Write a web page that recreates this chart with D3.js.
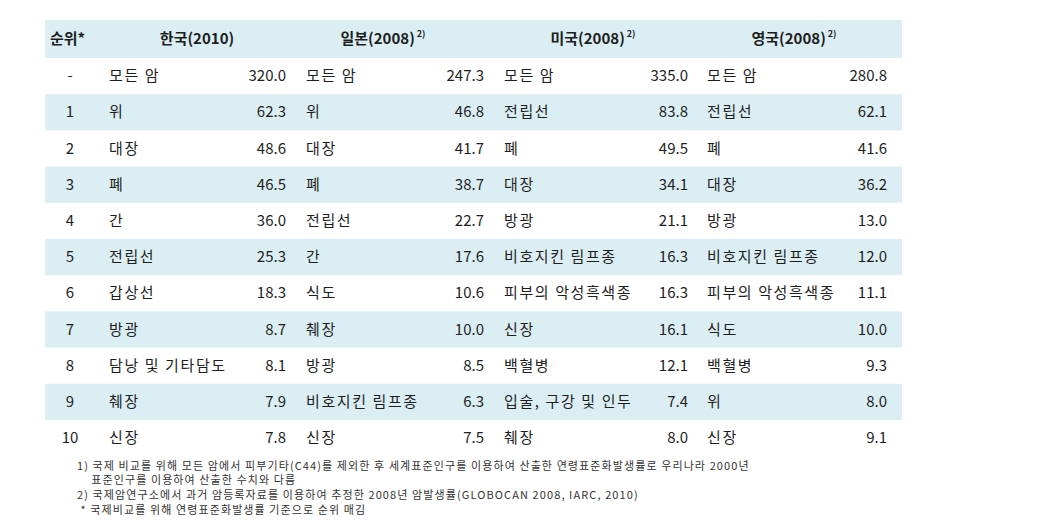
<!DOCTYPE html>
<html>
<head>
<meta charset="utf-8">
<script src="https://cdn.jsdelivr.net/npm/d3@7"></script>
<style>
  body { margin: 0; background: #fff; }
  svg text { font-family: "Malgun Gothic", "Noto Sans CJK KR", sans-serif; }
</style>
</head>
<body>
<script>
'use strict';

// table contents
const ranks = ["-", "1", "2", "3", "4", "5", "6", "7", "8", "9", "10"];
const countries = ["한국(2010)", "일본(2008)", "미국(2008)", "영국(2008)"];
const countryNotes = ["", "2)", "2)", "2)"];

const koreaSites = ["모든 암", "위", "대장", "폐", "간", "전립선", "갑상선", "방광", "담낭 및 기타담도", "췌장", "신장"];
const koreaRates = [320.0, 62.3, 48.6, 46.5, 36.0, 25.3, 18.3, 8.7, 8.1, 7.9, 7.8];

const japanSites = ["모든 암", "위", "대장", "폐", "전립선", "간", "식도", "췌장", "방광", "비호지킨 림프종", "신장"];
const japanRates = [247.3, 46.8, 41.7, 38.7, 22.7, 17.6, 10.6, 10.0, 8.5, 6.3, 7.5];

const usaSites = ["모든 암", "전립선", "폐", "대장", "방광", "비호지킨 림프종", "피부의 악성흑색종", "신장", "백혈병", "입술, 구강 및 인두", "췌장"];
const usaRates = [335.0, 83.8, 49.5, 34.1, 21.1, 16.3, 16.3, 16.1, 12.1, 7.4, 8.0];

const ukSites = ["모든 암", "전립선", "폐", "대장", "방광", "비호지킨 림프종", "피부의 악성흑색종", "식도", "백혈병", "위", "신장"];
const ukRates = [280.8, 62.1, 41.6, 36.2, 13.0, 12.0, 11.1, 10.0, 9.3, 8.0, 9.1];

const footnotes = [
  "1) 국제 비교를 위해 모든 암에서 피부기타(C44)를 제외한 후 세계표준인구를 이용하여 산출한 연령표준화발생률로 우리나라 2000년",
  "    표준인구를 이용하여 산출한 수치와 다름",
  "2) 국제암연구소에서 과거 암등록자료를 이용하여 추정한 2008년 암발생률(GLOBOCAN 2008, IARC, 2010)",
  " * 국제비교를 위해 연령표준화발생률 기준으로 순위 매김"
];

const width = 1045, height = 532;
const shade = "#dbeef3";
const ink = "#1e1e1e";

const svg = d3.select("body").append("svg")
  .attr("width", width)
  .attr("height", height);

const tableLeft = 45, tableRight = 902;
const headerTop = 20, headerBottom = 58;

// rows below the header
const y = d3.scaleBand()
  .domain(d3.range(ranks.length))
  .range([headerBottom, headerBottom + 36.2 * ranks.length])
  .paddingInner(0);

// column blocks: name left edge, value right edge, header centre
const blocks = [
  {sites: koreaSites, rates: koreaRates, nameX: 109, valueX: 286, headX: 197},
  {sites: japanSites, rates: japanRates, nameX: 306, valueX: 484, headX: 383},
  {sites: usaSites, rates: usaRates, nameX: 504, valueX: 688, headX: 593},
  {sites: ukSites, rates: ukRates, nameX: 707, valueX: 887, headX: 794}
];

// header background
svg.append("rect")
  .attr("x", tableLeft)
  .attr("y", headerTop)
  .attr("width", tableRight - tableLeft)
  .attr("height", headerBottom - headerTop)
  .attr("fill", shade);

// banded rows
svg.selectAll(".band")
  .data(d3.range(ranks.length).filter(i => i % 2 === 1))
  .enter()
  .append("rect")
    .attr("x", tableLeft)
    .attr("y", i => y(i))
    .attr("width", tableRight - tableLeft)
    .attr("height", y.bandwidth())
    .attr("fill", shade);

const headY = (headerTop + headerBottom) / 2 + 1;

svg.append("text")
  .attr("x", 50)
  .attr("y", headY)
  .attr("dominant-baseline", "middle")
  .style("font-size", "15px")
  .style("font-weight", "bold")
  .attr("fill", ink)
  .text("순위*");

let heads = svg.selectAll(".head")
  .data(countries)
  .enter()
  .append("text")
    .attr("x", (d, i) => blocks[i].headX)
    .attr("y", headY)
    .attr("text-anchor", "middle")
    .attr("dominant-baseline", "middle")
    .style("font-size", "15px")
    .style("font-weight", "bold")
    .attr("fill", ink)
    .text(d => d);

heads.filter((d, i) => countryNotes[i] !== "")
  .append("tspan")
    .attr("dx", 2)
    .attr("dy", -5)
    .style("font-size", "9px")
    .text((d, i) => countryNotes[countries.indexOf(d)]);

// rank column
svg.selectAll(".rank")
  .data(ranks)
  .enter()
  .append("text")
    .attr("x", 70)
    .attr("y", (d, i) => y(i) + y.bandwidth() / 2 + 1)
    .attr("text-anchor", "middle")
    .attr("dominant-baseline", "middle")
    .style("font-size", "15px")
    .attr("fill", ink)
    .text(d => d);

// site names and rates per country
blocks.forEach(b => {
  svg.selectAll(null)
    .data(b.sites)
    .enter()
    .append("text")
      .attr("x", b.nameX)
      .attr("y", (d, i) => y(i) + y.bandwidth() / 2 + 1)
      .attr("dominant-baseline", "middle")
      .style("font-size", "15px")
      .style("letter-spacing", "1.6px")
      .attr("fill", ink)
      .text(d => d);

  svg.selectAll(null)
    .data(b.rates)
    .enter()
    .append("text")
      .attr("x", b.valueX)
      .attr("y", (d, i) => y(i) + y.bandwidth() / 2 + 1)
      .attr("text-anchor", "end")
      .attr("dominant-baseline", "middle")
      .style("font-size", "15px")
      .attr("fill", ink)
      .text(d => d3.format(".1f")(d));
});

// footnotes
const noteY = [467, 481, 496, 511];
svg.selectAll(".note")
  .data(footnotes)
  .enter()
  .append("text")
    .attr("x", 77)
    .attr("y", (d, i) => noteY[i])
    .attr("dominant-baseline", "middle")
    .attr("xml:space", "preserve")
    .style("white-space", "pre")
    .style("font-size", "11px")
    .style("letter-spacing", "1.1px")
    .attr("fill", "#333")
    .text(d => d);
</script>
</body>
</html>
